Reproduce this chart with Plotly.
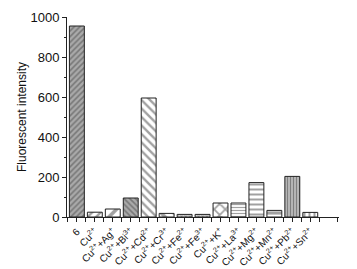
import plotly.graph_objects as go

categories = ["6", "Cu<sup>2+</sup>", "Cu<sup>2+</sup>+Ag<sup>+</sup>", "Cu<sup>2+</sup>+Bi<sup>3+</sup>",
              "Cu<sup>2+</sup>+Cd<sup>2+</sup>", "Cu<sup>2+</sup>+Cr<sup>3+</sup>", "Cu<sup>2+</sup>+Fe<sup>2+</sup>",
              "Cu<sup>2+</sup>+Fe<sup>3+</sup>", "Cu<sup>2+</sup>+K<sup>+</sup>", "Cu<sup>2+</sup>+La<sup>3+</sup>",
              "Cu<sup>2+</sup>+Mg<sup>2+</sup>", "Cu<sup>2+</sup>+Mn<sup>2+</sup>", "Cu<sup>2+</sup>+Pb<sup>2+</sup>",
              "Cu<sup>2+</sup>+Sn<sup>2+</sup>"]
values = [955, 24, 40, 95, 595, 18, 13, 13, 70, 70, 172, 33, 203, 23]
y_ticks = [0, 200, 400, 600, 800, 1000]

patterns = ["/", "/", "/", "\\", "\\", "\\", "x", "x", "x", "-", "-", "-", "|", "|"]
pat_size = [4, 6, 9, 4, 6, 9, 3, 3, 8, 3, 5, 8, 3, 5]
pat_bg = ["#aaaaaa", "white", "white", "#aaaaaa", "white", "white", "#dddddd", "#dddddd", "white",
          "white", "white", "white", "#bbbbbb", "white"]

xs = list(range(len(categories)))

fig = go.Figure()
fig.add_trace(go.Bar(
    x=xs, y=values, width=0.83,
    marker=dict(
        color=pat_bg,
        line=dict(color="#222222", width=1),
        pattern=dict(shape=patterns, size=pat_size, solidity=0.4,
                     fgcolor="#222222", fillmode="overlay"),
    ),
))

# page body has an 8px default margin, so the figure is drawn 8px smaller
fig.update_layout(
    width=349, height=261,
    margin=dict(l=59, r=18, t=9, b=52),
    paper_bgcolor="white", plot_bgcolor="white",
    showlegend=False,
    font=dict(family="Liberation Sans, Arial, sans-serif", color="#111111"),
)
fig.update_xaxes(
    range=[-0.55, 14.6], automargin=False,
    tickmode="array", tickvals=xs, ticktext=categories,
    tickangle=-45, tickfont=dict(size=10),
    showline=True, linecolor="#222222", linewidth=1,
    ticks="outside", ticklen=4, tickcolor="#222222",
    minor=dict(ticks="outside", ticklen=4, tick0=0.5, dtick=1, tickcolor="#222222"),
    showgrid=False, zeroline=False,
)
fig.update_yaxes(
    range=[0, 1000], automargin=False,
    tickmode="array", tickvals=y_ticks,
    tickfont=dict(size=13),
    title=dict(text="Fluorescent intensity", font=dict(size=12), standoff=1),
    showline=True, linecolor="#222222", linewidth=1,
    ticks="outside", ticklen=4, tickcolor="#222222",
    minor=dict(ticks="outside", ticklen=2, dtick=100, tickcolor="#222222"),
    showgrid=False, zeroline=False,
)

fig.write_html("out.html")
